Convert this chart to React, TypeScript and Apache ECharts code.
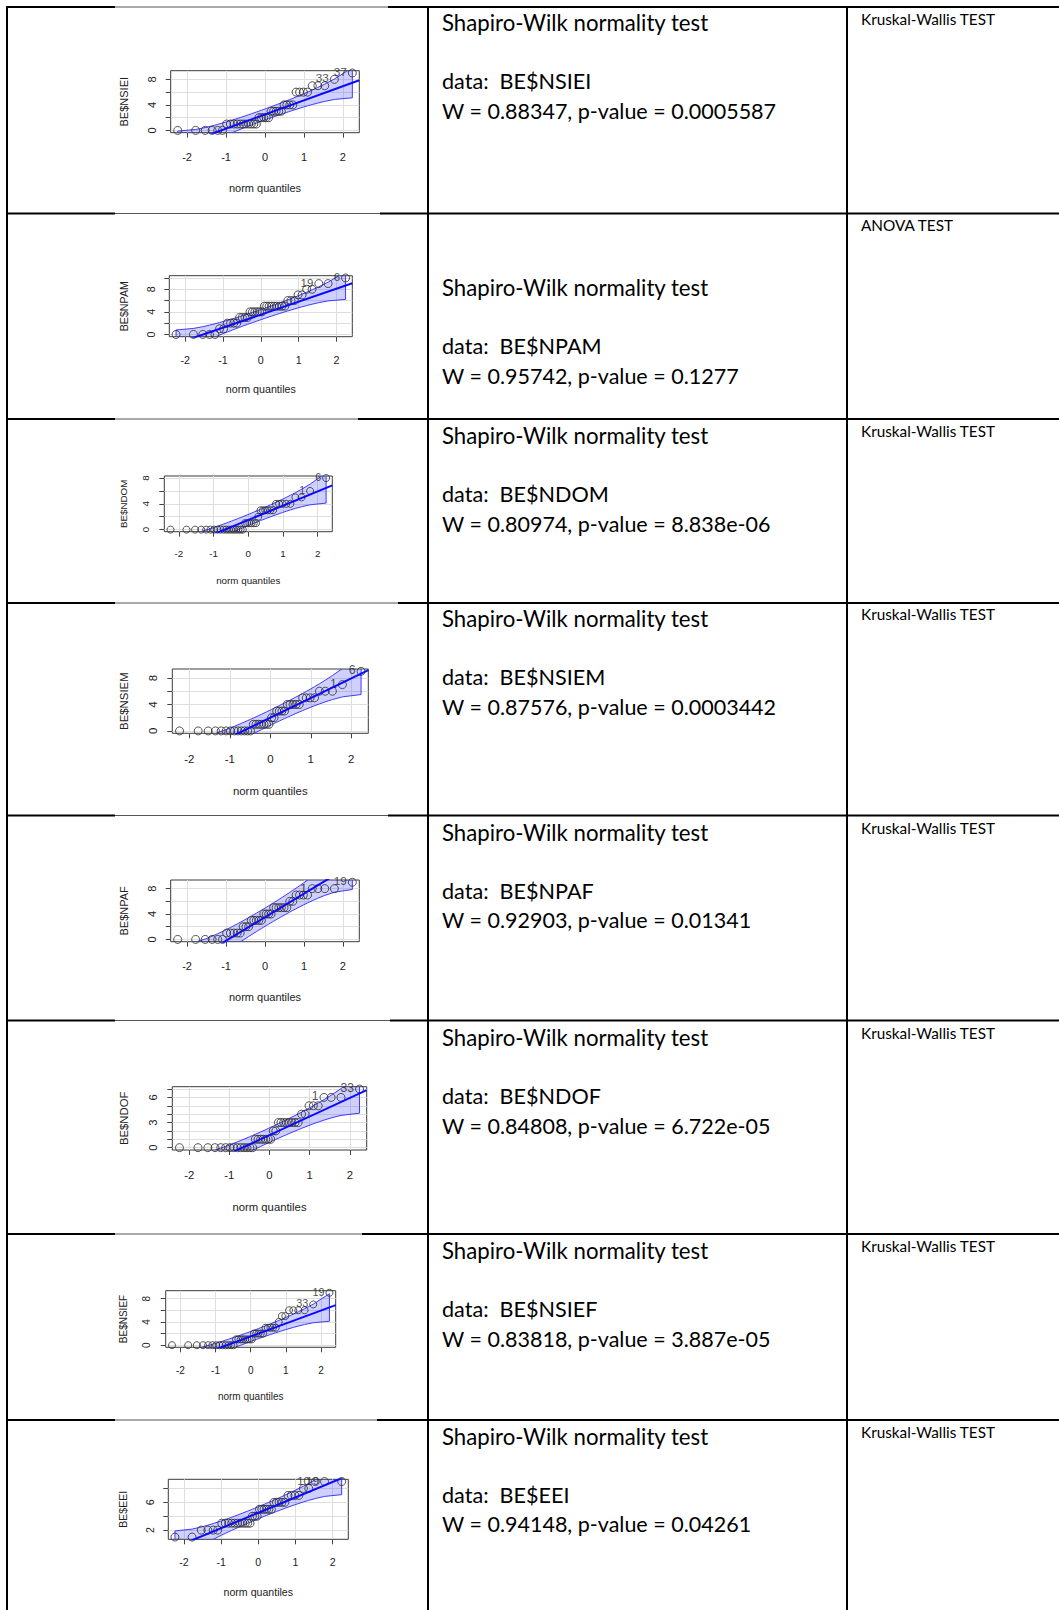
import React, { useEffect, useRef } from "react";
import * as echarts from "echarts";

// ---------- data ----------
const NORM_QUANTILES = [
  -2.2414, -1.7805, -1.5341, -1.3563, -1.2133, -1.0918, -0.9842, -0.8871, -0.7979, -0.7144,
  -0.6357, -0.5607, -0.4888, -0.4193, -0.3518, -0.2858, -0.2211, -0.1573, -0.0941, -0.0313,
  0.0313, 0.0941, 0.1573, 0.2211, 0.2858, 0.3518, 0.4193, 0.4888, 0.5607, 0.6357,
  0.7144, 0.7979, 0.8871, 0.9842, 1.0918, 1.2133, 1.3563, 1.5341, 1.7805, 2.2414,
];
// pointwise 95% envelope half-width per unit of slope (car::qqPlot, n = 40)
const ENVELOPE_HALF = [
  1.0639, 0.7201, 0.6099, 0.5507, 0.5125, 0.4855, 0.4652, 0.4494, 0.4369, 0.4266,
  0.4183, 0.4114, 0.4057, 0.4011, 0.3973, 0.3942, 0.3919, 0.3902, 0.389, 0.3885,
  0.3885, 0.389, 0.3902, 0.3919, 0.3942, 0.3973, 0.4011, 0.4057, 0.4114, 0.4183,
  0.4266, 0.4369, 0.4494, 0.4652, 0.4855, 0.5125, 0.5507, 0.6099, 0.7201, 1.0639,
];

const VARIABLES = ["BE$NSIEI", "BE$NPAM", "BE$NDOM", "BE$NSIEM", "BE$NPAF", "BE$NDOF", "BE$NSIEF", "BE$EEI"];

const VALUES_NSIEI = [0,0,0,0,0,0, 1,1,1,1,1,1,1,1,1,1,1, 2,2,2,2,2, 3,3,3,3,3, 4,4,4,4, 6,6,6,6, 7,7,7, 8, 9];
const VALUES_NPAM = [0,0,0,0,0, 1,1, 2,2,2,2, 3,3,3,3, 4,4,4,4,4,4, 5,5,5,5,5,5,5,5,5, 6,6,6, 7,7, 8,8, 9,9, 10];
const VALUES_NDOM = [0,0,0,0,0,0,0,0,0,0,0,0,0,0,0,0,0,0, 1,1,1,1,1,1, 2, 3,3,3,3,3,3, 4,4,4,4,4, 5,5, 6, 8];
const VALUES_NSIEM = [0,0,0,0,0,0,0,0,0,0,0,0,0, 1,1,1,1,1,1,1, 2,2, 3,3,3,3, 4,4,4,4,4, 5,5,5,5, 6,6,6, 7, 9];
const VALUES_NPAF = [0,0,0,0,0,0, 1,1,1,1,1, 2,2,2, 3,3,3,3,3, 4,4,4,4, 5,5,5,5,5,5, 6,6, 7,7,7,7, 8,8,8,8, 9];
const VALUES_NDOF = [0,0,0,0,0,0,0,0,0,0,0,0,0,0, 1,1,1,1,1,1,1, 2,2, 3,3,3,3,3,3,3,3, 4,4, 5,5,5, 6,6,6, 7];
const VALUES_NSIEF = [0,0,0,0,0,0,0,0,0,0,0,0,0, 1,1,1,1,1,1,1,1, 2,2,2,2,2, 3,3,3,3,3, 4, 5,5, 6,6,6,6, 7, 9];
const VALUES_EEI = [1,1, 2,2,2,2, 3,3,3,3,3,3,3,3,3,3,3, 4,4,4, 5,5,5,5,5,5, 6,6,6,6,6, 7,7,7,7, 8,8, 9,9,9];
const SAMPLE_VALUES = [VALUES_NSIEI, VALUES_NPAM, VALUES_NDOM, VALUES_NSIEM, VALUES_NPAF, VALUES_NDOF, VALUES_NSIEF, VALUES_EEI];

// reference line (quartile line)
const FIT_INTERCEPTS = [2.5, 3.5, 1.5, 2.0, 3.5, 1.5, 1.5, 4.5];
const FIT_SLOPES = [2.22, 2.3, 2.22, 2.97, 3.71, 2.22, 2.22, 2.22];

// labelled observations: [position in sorted order (1-based), label]
const ID_LABELS: [number, string][][] = [
  [[39, "33"], [40, "37"]],
  [[38, "19"], [40, "6"]],
  [[39, "1"], [40, "6"]],
  [[39, "1"], [40, "6"]],
  [[36, "1"], [40, "19"]],
  [[37, "1"], [40, "33"]],
  [[39, "33"], [40, "19"]],
  [[38, "10"], [39, "19"]],
];

const X_RANGE = [-2.42, 2.42];
const X_TICKS = [-2, -1, 0, 1, 2];
const Y_RANGES = [[-0.36, 9.36], [-0.4, 10.4], [-0.32, 8.32], [-0.36, 9.36], [-0.36, 9.36], [-0.28, 7.28], [-0.36, 9.36], [0.68, 9.32]];
const Y_TICKS = [[0,2,4,6,8], [0,2,4,6,8,10], [0,2,4,6,8], [0,2,4,6,8], [0,2,4,6,8], [0,1,2,3,4,5,6,7], [0,2,4,6,8], [2,4,6,8]];
const Y_TICK_LABELS = [[0,4,8], [0,4,8], [0,4,8], [0,4,8], [0,4,8], [0,3,6], [0,4,8], [2,6]];

const W_STATS = ["0.88347", "0.95742", "0.80974", "0.87576", "0.92903", "0.84808", "0.83818", "0.94148"];
const P_VALUES = ["0.0005587", "0.1277", "8.838e-06", "0.0003442", "0.01341", "6.722e-05", "3.887e-05", "0.04261"];
const TEST_NAMES = ["Kruskal-Wallis TEST", "ANOVA TEST", "Kruskal-Wallis TEST", "Kruskal-Wallis TEST", "Kruskal-Wallis TEST", "Kruskal-Wallis TEST", "Kruskal-Wallis TEST", "Kruskal-Wallis TEST"];

// ---------- layout ----------
const PLOT_LAYOUT = [
  { left: 170.7, top: 70.7, width: 188.6, height: 62, yNameX: 124, yTickX: 151.7, xTickY: 156.7, xNameY: 187.7, font: 11 },
  { left: 169.3, top: 275.7, width: 183, height: 61, yNameX: 124, yTickX: 150.7, xTickY: 360, xNameY: 389, font: 10.7 },
  { left: 164.3, top: 476, width: 168, height: 55.7, yNameX: 123.3, yTickX: 146, xTickY: 553.3, xNameY: 580, font: 9.8 },
  { left: 172.3, top: 669, width: 196, height: 64.3, yNameX: 124, yTickX: 152.7, xTickY: 759, xNameY: 790.7, font: 11.4 },
  { left: 170.7, top: 880, width: 188.6, height: 61.7, yNameX: 124, yTickX: 151.7, xTickY: 966, xNameY: 996.7, font: 11 },
  { left: 172.3, top: 1086.7, width: 194.4, height: 63.3, yNameX: 124, yTickX: 152.7, xTickY: 1175, xNameY: 1206.7, font: 11.3 },
  { left: 165.7, top: 1290.7, width: 170, height: 56.6, yNameX: 123.3, yTickX: 146.7, xTickY: 1370, xNameY: 1396.7, font: 10 },
  { left: 168.3, top: 1479.3, width: 180, height: 60, yNameX: 123.3, yTickX: 150, xTickY: 1561.7, xNameY: 1591.7, font: 10.6 },
];

const H_LINES_Y = [7, 213.5, 419, 603, 815.5, 1020.5, 1234, 1420];
const H_LINES_GAP_END = [388, 380, 358, 398, 388, 390, 362, 377];
const V_LINES_X = [7, 428, 847];
const TITLE_Y = [22.6, 287.6, 435.5, 618, 832, 1037.5, 1250, 1436];
const DATA_Y = [81, 346, 494, 677, 890.6, 1096, 1308.7, 1494.6];
const STAT_Y = [111, 376, 524, 707, 920, 1126, 1338.5, 1524];
const TEST_Y = [18.5, 225, 431, 614, 828, 1033, 1246, 1432];
const COL2_X = 442;
const COL3_X = 861;

const PAGE_W = 1059;
const PAGE_H = 1610;
const AXIS_FONT = "Liberation Sans";
const TABLE_FONT = "Lato";

function buildOption() {
  const grid: any[] = [];
  const xAxis: any[] = [];
  const yAxis: any[] = [];
  const series: any[] = [];

  SAMPLE_VALUES.forEach((vals, k) => {
    const L = PLOT_LAYOUT[k];
    const fs = L.font;
    const a = FIT_INTERCEPTS[k];
    const b = FIT_SLOPES[k];
    const bottom = L.top + L.height;

    grid.push({
      left: L.left, top: L.top, width: L.width, height: L.height,
      show: true, borderColor: "#3a3a3a", borderWidth: 1, backgroundColor: "#ffffff",
      containLabel: false, outerBoundsMode: "none",
    });

    xAxis.push({
      gridIndex: k, type: "value", min: X_RANGE[0], max: X_RANGE[1], position: "bottom",
      axisLine: { show: false, onZero: false },
      axisTick: { show: true, length: 5, customValues: X_TICKS, lineStyle: { color: "#444", width: 1 } },
      axisLabel: {
        show: true, customValues: X_TICKS, fontSize: fs, color: "#222", fontFamily: AXIS_FONT,
        margin: L.xTickY - bottom - fs / 2,
      },
      splitLine: { show: true, lineStyle: { color: "#dedede", width: 1 } },
      name: "norm quantiles", nameLocation: "middle", nameMoveOverlap: false,
      nameGap: L.xNameY - bottom - fs / 2,
      nameTextStyle: { fontSize: fs, color: "#222", fontFamily: AXIS_FONT },
    });

    yAxis.push({
      gridIndex: k, type: "value", min: Y_RANGES[k][0], max: Y_RANGES[k][1], position: "left",
      axisLine: { show: false, onZero: false },
      axisTick: { show: true, length: 5, customValues: Y_TICKS[k], lineStyle: { color: "#444", width: 1 } },
      axisLabel: {
        show: true, customValues: Y_TICK_LABELS[k], rotate: 90, fontSize: fs, color: "#222", fontFamily: AXIS_FONT,
        margin: L.left - L.yTickX - fs / 2,
      },
      splitLine: { show: true, lineStyle: { color: "#dedede", width: 1 } },
      name: VARIABLES[k], nameLocation: "middle", nameRotate: 90, nameMoveOverlap: false,
      nameGap: L.left - L.yNameX - fs / 2,
      nameTextStyle: { fontSize: fs, color: "#222", fontFamily: AXIS_FONT },
    });

    // confidence envelope
    series.push({
      type: "custom", coordinateSystem: "cartesian2d", xAxisIndex: k, yAxisIndex: k,
      clip: true, silent: true, z: 2,
      data: [[0, a]],
      renderItem: (_params: any, api: any) => {
        const upper = NORM_QUANTILES.map((z, i) => api.coord([z, a + b * z + b * ENVELOPE_HALF[i]]));
        const lower = NORM_QUANTILES.map((z, i) => api.coord([z, a + b * z - b * ENVELOPE_HALF[i]])).reverse();
        return {
          type: "polygon",
          shape: { points: upper.concat(lower) },
          style: { fill: "rgba(40,40,255,0.22)", stroke: "#3c3cff", lineWidth: 1 },
        };
      },
    });

    // points
    const labelMap: Record<number, string> = {};
    ID_LABELS[k].forEach(([idx, txt]) => { labelMap[idx - 1] = txt; });
    series.push({
      type: "scatter", xAxisIndex: k, yAxisIndex: k, z: 3, silent: true,
      symbol: "circle", symbolSize: Math.round(fs * 0.72),
      itemStyle: { color: "rgba(0,0,0,0)", borderColor: "#2a2a2a", borderWidth: 1 },
      data: vals.map((v, i) => {
        const item: any = { value: [NORM_QUANTILES[i], v] };
        if (labelMap[i] !== undefined) {
          item.label = {
            show: true, position: "left", distance: 1, formatter: labelMap[i],
            fontSize: fs + 0.8, color: "#222", fontFamily: AXIS_FONT, offset: [0, -1],
          };
        }
        return item;
      }),
    });

    // reference line
    series.push({
      type: "line", xAxisIndex: k, yAxisIndex: k, z: 4, silent: true, clip: true,
      symbol: "none",
      lineStyle: { color: "#0a0aff", width: 2 },
      data: [[X_RANGE[0], a + b * X_RANGE[0]], [X_RANGE[1], a + b * X_RANGE[1]]],
    });
  });

  const graphic: any[] = [];
  V_LINES_X.forEach((x) => {
    graphic.push({ type: "line", shape: { x1: x, y1: 6, x2: x, y2: PAGE_H }, style: { stroke: "#000", lineWidth: 2 }, z: 10 });
  });
  H_LINES_Y.forEach((y, i) => {
    graphic.push({ type: "line", shape: { x1: 6, y1: y, x2: 115, y2: y }, style: { stroke: "#000", lineWidth: 2 }, z: 10 });
    graphic.push({ type: "line", shape: { x1: 115, y1: y, x2: H_LINES_GAP_END[i], y2: y }, style: { stroke: "#555", lineWidth: 1 }, z: 10 });
    graphic.push({ type: "line", shape: { x1: H_LINES_GAP_END[i], y1: y, x2: PAGE_W, y2: y }, style: { stroke: "#000", lineWidth: 2 }, z: 10 });
  });
  const txt = (x: number, y: number, text: string, size: number) => ({
    type: "text", x, y, z: 11,
    style: { text, fill: "#000", fontSize: size, fontFamily: TABLE_FONT, align: "left", verticalAlign: "middle" },
  });
  VARIABLES.forEach((name, i) => {
    graphic.push(txt(COL2_X, TITLE_Y[i], "Shapiro-Wilk normality test", 22.2));
    graphic.push(txt(COL2_X, DATA_Y[i], "data:  " + name, 21.6));
    graphic.push(txt(COL2_X, STAT_Y[i], "W = " + W_STATS[i] + ", p-value = " + P_VALUES[i], 21.5));
    graphic.push(txt(COL3_X, TEST_Y[i], TEST_NAMES[i], 15.3));
  });

  return {
    animation: false,
    backgroundColor: "#ffffff",
    textStyle: { fontFamily: AXIS_FONT },
    grid, xAxis, yAxis, series, graphic,
  };
}

export default function App() {
  const ref = useRef<HTMLDivElement>(null);
  useEffect(() => {
    if (!ref.current) return;
    const chart = echarts.init(ref.current, null, { renderer: "svg" });
    chart.setOption(buildOption() as any);
    return () => chart.dispose();
  }, []);
  return (
    <div
      ref={ref}
      style={{ position: "absolute", left: 0, top: 0, width: PAGE_W, height: PAGE_H, background: "#fff" }}
    />
  );
}
